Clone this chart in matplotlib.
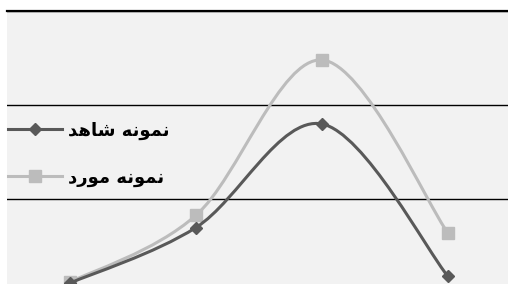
import numpy as np
import matplotlib
matplotlib.use("Agg")
import matplotlib.pyplot as plt
from matplotlib.path import Path
from matplotlib.patches import PathPatch
from matplotlib.lines import Line2D

# categories (no labels visible in the crop)
categories = [0, 1, 2, 3]
# "control sample" / "case sample" (Persian, pre-shaped presentation forms in visual order)
label_control = "ﺪﻫﺎﺷ ﻪﻧﻮﻤﻧ"   # نمونه شاهد
label_case = "ﺩﺭﻮﻣ ﻪﻧﻮﻤﻧ"      # نمونه مورد
control_vals = [0.11, 0.70, 1.80, 0.18]
case_vals = [0.12, 0.83, 2.48, 0.64]
grid_vals = [1, 2, 3]

dark = "#595959"
light = "#bcbcbc"


def smooth_path(xs, ys):
    # Excel style smoothed line: cubic bezier between consecutive points
    pts = np.column_stack([xs, ys]).astype(float)
    n = len(pts)
    verts = [pts[0]]
    codes = [Path.MOVETO]
    for i in range(n - 1):
        p0 = pts[i - 1] if i > 0 else pts[i]
        p1 = pts[i]
        p2 = pts[i + 1]
        p3 = pts[i + 2] if i + 2 < n else pts[i + 1]
        c1 = p1 + (p2 - p0) / 6.0
        c2 = p2 - (p3 - p1) / 6.0
        verts += [c1, c2, p2]
        codes += [Path.CURVE4] * 3
    return Path(verts, codes)


fig = plt.figure(figsize=(5.08, 2.84), dpi=100)
ax = fig.add_axes([7 / 508, 0, 501 / 508, 273 / 284])
ax.set_facecolor("#f2f2f2")
ax.set_xlim(-0.5, 3.476)
ax.set_ylim(0.1, 3.0)

for g in grid_vals:
    ax.axhline(g, color="black", lw=1.0, zorder=1)

for spine in ["left", "right", "bottom"]:
    ax.spines[spine].set_visible(False)
ax.spines["top"].set_linewidth(1.6)
ax.set_xticks([])
ax.set_yticks([])

ax.add_patch(PathPatch(smooth_path(categories, case_vals), fill=False,
                       edgecolor=light, lw=2.2, zorder=2, capstyle="round"))
ax.plot(categories, case_vals, ls="none", marker="s", ms=8, color=light,
        zorder=3)
ax.add_patch(PathPatch(smooth_path(categories, control_vals), fill=False,
                       edgecolor=dark, lw=2.2, zorder=4, capstyle="round"))
ax.plot(categories, control_vals, ls="none", marker="D", ms=6.5, color=dark,
        zorder=5)

handles = [
    Line2D([], [], color=dark, lw=2.2, marker="D", ms=6.5),
    Line2D([], [], color=light, lw=2.2, marker="s", ms=8),
]
fig.legend(handles, [label_control, label_case], loc="center left",
           bbox_to_anchor=(8 / 508, 1 - 154 / 284), frameon=False,
           prop={"family": "DejaVu Sans", "size": 13, "weight": "bold"},
           handlelength=3.0, handletextpad=0.3, labelspacing=1.6,
           borderpad=0, borderaxespad=0, markerscale=1.0)

fig.savefig("out.png", dpi=100)
